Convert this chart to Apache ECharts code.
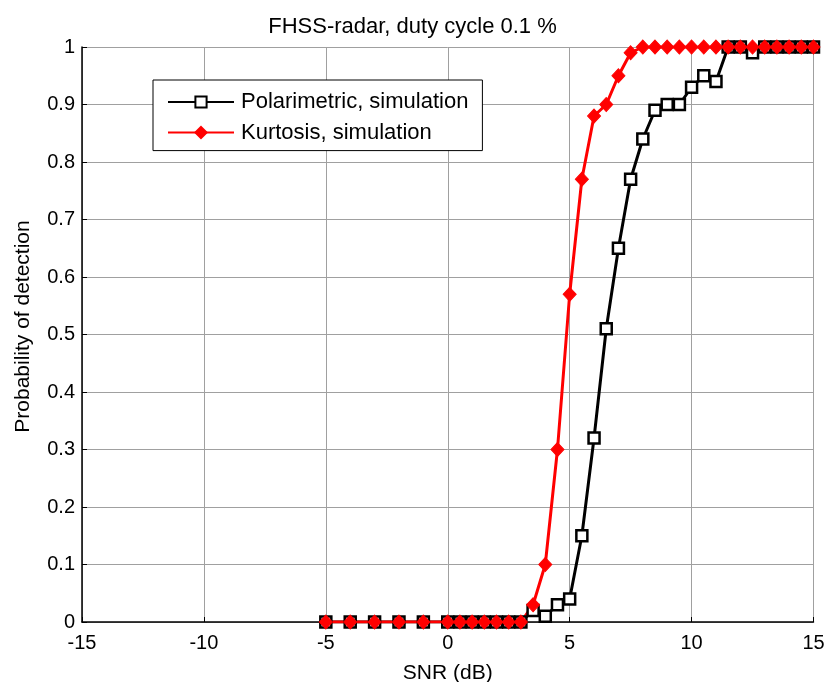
<!DOCTYPE html>
<html>
<head>
<meta charset="utf-8">
<script src="https://cdn.jsdelivr.net/npm/echarts@6/dist/echarts.min.js"></script>
<style>
html,body{margin:0;padding:0;background:#fff;}
#chart{width:825px;height:682px;}
</style>
</head>
<body>
<div id="chart"></div>
<script>
const snr = [-5,-4,-3,-2,-1,0,0.5,1,1.5,2,2.5,3,3.5,4,4.5,5,5.5,6,6.5,7,7.5,8,8.5,9,9.5,10,10.5,11,11.5,12,12.5,13,13.5,14,14.5,15];
const polarimetric = [0,0,0,0,0,0,0,0,0,0,0,0,0.02,0.01,0.03,0.04,0.15,0.32,0.51,0.65,0.77,0.84,0.89,0.90,0.90,0.93,0.95,0.94,1,1,0.99,1,1,1,1,1];
const kurtosis = [0,0,0,0,0,0,0,0,0,0,0,0,0.03,0.10,0.30,0.57,0.77,0.88,0.90,0.95,0.99,1,1,1,1,1,1,1,1,1,1,1,1,1,1,1];
const seriesNames = ['Polarimetric, simulation','Kurtosis, simulation'];
const titleText = 'FHSS-radar, duty cycle 0.1 %';
const xName = 'SNR (dB)';
const yName = 'Probability of detection';

const font = 'Liberation Sans, Arial, sans-serif';
const chart = echarts.init(document.getElementById('chart'), null, {renderer:'canvas'});
chart.setOption({
  animation:false,
  backgroundColor:'#fff',
  title:{text:titleText,left:'center',top:11,
    textStyle:{fontFamily:font,fontSize:22,fontWeight:'normal',color:'#000'}},
  grid:{left:82,right:11.5,top:47,bottom:60,containLabel:false,outerBoundsMode:'none'},
  legend:{
    orient:'vertical',left:153,top:80,
    backgroundColor:'#fff',borderColor:'#000',borderWidth:1,borderRadius:0,
    padding:[10,14,6,14],itemWidth:66,itemHeight:14,itemGap:6.6,
    textStyle:{fontFamily:font,fontSize:22,color:'#000',lineHeight:24,padding:[0,0,0,2]},
    data:seriesNames
  },
  xAxis:{type:'value',min:-15,max:15,interval:5,
    name:xName,nameLocation:'middle',nameGap:41,
    nameTextStyle:{fontFamily:font,fontSize:21,color:'#000'},
    axisLine:{onZero:false,lineStyle:{color:'#000',width:1.5}},
    axisTick:{inside:true,length:5,lineStyle:{color:'#000'}},
    axisLabel:{fontFamily:font,fontSize:20,color:'#000',margin:11},
    splitLine:{show:true,lineStyle:{color:'#a0a0a0',width:1}}
  },
  yAxis:{type:'value',min:0,max:1,interval:0.1,
    name:yName,nameLocation:'middle',nameGap:48,
    nameTextStyle:{fontFamily:font,fontSize:21,color:'#000',padding:[0,0,0,16]},
    axisLine:{show:true,onZero:false,lineStyle:{color:'#000',width:1.5}},
    axisTick:{show:true,inside:true,length:5,lineStyle:{color:'#000'}},
    axisLabel:{fontFamily:font,fontSize:20,color:'#000',margin:7},
    splitLine:{show:true,lineStyle:{color:'#a0a0a0',width:1}}
  },
  series:[
    {name:seriesNames[0],type:'line',data:snr.map((x,i)=>[x,polarimetric[i]]),
      symbol:'rect',symbolSize:11,showAllSymbol:true,
      lineStyle:{color:'#000',width:3},
      itemStyle:{color:'#fff',borderColor:'#000',borderWidth:2.5}},
    {name:seriesNames[1],type:'line',data:snr.map((x,i)=>[x,kurtosis[i]]),
      symbol:'diamond',symbolSize:[13,14],showAllSymbol:true,
      lineStyle:{color:'#ff0000',width:3},
      itemStyle:{color:'#ff0000',borderColor:'#ff0000',borderWidth:1}}
  ]
});
</script>
</body>
</html>
